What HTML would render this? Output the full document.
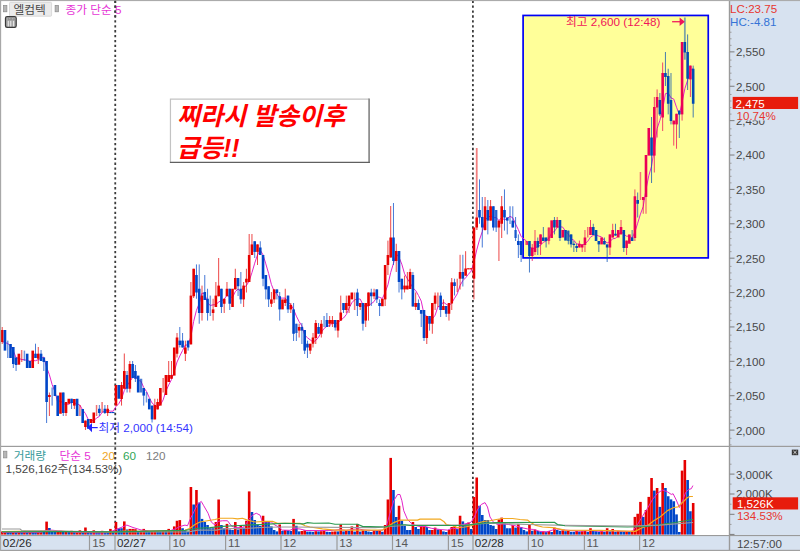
<!DOCTYPE html>
<html lang="ko"><head><meta charset="utf-8"><title>chart</title>
<style>
html,body{margin:0;padding:0;background:#fff;font-family:"Liberation Sans",sans-serif;}
body{width:800px;height:551px;overflow:hidden;}
svg{display:block;}
svg text{font-family:"Liberation Sans","Noto Sans CJK KR",sans-serif;}
</style></head><body>
<svg width="800" height="551" viewBox="0 0 800 551" shape-rendering="geometricPrecision"><rect x="0" y="0" width="800" height="551" fill="#fff"/>
<rect x="523.1" y="15.45" width="185.15" height="242.45" fill="#ffff99" stroke="#0000f5" stroke-width="1.7"/>
<line x1="115.25" y1="0.65" x2="115.25" y2="535" stroke="#3c3c3c" stroke-width="1.8" stroke-dasharray="2.3 2.607"/>
<line x1="472.9" y1="0.65" x2="472.9" y2="535" stroke="#3c3c3c" stroke-width="1.8" stroke-dasharray="2.3 2.607"/>
<polyline fill="none" stroke="#e424c8" stroke-width="1" stroke-linejoin="round" points="2.2,341.6 4.97,342.52 7.75,343.52 10.52,345.92 13.3,350.72 16.07,357.72 18.85,358.34 21.62,359.54 24.4,359.74 27.17,360.54 29.95,361.14 32.73,360.52 35.5,360.72 38.27,359.66 41.05,358.26 43.83,357.06 46.6,367.34 49.38,374.74 52.15,384.6 54.93,391.6 57.7,402.4 60.48,400.5 63.25,404.1 66.02,403.9 68.8,404.45 71.58,401.85 74.35,403.15 77.12,403.75 79.9,405.15 82.67,410 85.45,413.52 88.22,419.47 91,420.07 93.78,420.77 96.55,417.97 99.33,416.45 102.1,412.3 104.88,411.1 107.65,410.35 110.42,411.15 113.2,411.15 115.97,406.55 118.75,403.7 121.53,398.95 124.3,390.55 127.08,385.7 129.85,381.5 132.62,377.35 135.4,376.1 138.17,380.4 140.95,381.15 143.72,387.47 146.5,391.47 149.27,397.6 152.05,402.98 154.82,405.48 157.6,406.76 160.37,404.76 163.15,399.88 165.92,391 168.7,385 171.47,379.6 174.25,371.5 177.02,362 179.8,356 182.57,350.5 185.35,345 188.12,345 190.9,336.62 193.67,321.37 196.45,310.37 199.22,303.47 202,293.09 204.77,293.97 207.55,302.82 210.32,305.52 213.1,304.8 215.87,304.8 218.65,301.92 221.42,300.72 224.2,299.27 226.97,295.14 229.75,296.77 232.52,297.4 235.3,291.6 238.07,289.1 240.85,291.23 243.62,287.6 246.4,285.6 249.17,281 251.95,272.63 254.72,263.13 257.5,254.89 260.27,250.14 263.05,254.89 265.82,263.89 268.6,273.39 271.38,284.39 274.15,291.27 276.92,294.12 279.7,298.12 282.47,298.12 285.25,298.12 288.02,302.12 290.8,304.52 293.57,309.39 296.35,316.11 299.12,321.63 301.9,325.87 304.67,334.99 307.45,337.74 310.22,339.89 313,341.99 315.77,340.47 318.55,337.1 321.32,332.35 324.1,328.4 326.88,326.3 329.65,325.7 332.42,322.95 335.2,323.7 337.97,322.9 340.75,320 343.52,318 346.3,314.6 349.07,308.22 351.85,302.72 354.62,299.82 357.4,299.02 360.17,299.02 362.95,304.65 365.72,306.75 368.5,305.65 371.27,303.7 374.05,301.6 376.82,296.73 379.6,297.33 382.38,298.58 385.15,292.33 387.92,284.83 390.7,272.45 393.47,263.45 396.25,253.9 399.02,257.3 401.8,264.18 404.57,273.8 407.35,278.72 410.12,282.92 412.9,287.82 415.67,290.54 418.45,295.42 421.22,301.05 424,314.25 426.77,316.15 429.55,320.3 432.32,318.9 435.1,315.27 437.88,306.87 440.65,305.67 443.42,302.12 446.2,304.27 448.97,305.75 451.75,303.01 454.52,298.21 457.3,293.81 460.07,285.46 462.85,280.6 465.62,277.84 468.4,274.28 471.17,271.12 473.95,262.22 476.72,249.98 479.5,239.78 482.27,231.64 485.05,219.25 487.82,217.87 490.6,215.62 493.38,217.62 496.15,217.62 498.92,220.49 501.7,217.62 504.47,219.87 507.25,218.49 510.02,216.39 512.8,217.77 515.58,224.12 518.35,229.62 521.12,236.5 526.68,241.3 529.45,247 532.23,248.9 535,248.1 537.77,246.6 540.55,245.28 543.33,242.28 546.1,240.98 548.88,238.28 551.65,232.84 554.43,231.46 557.2,227.26 559.98,226.66 562.75,227.16 565.52,231.22 568.3,233.92 571.08,238.8 573.85,240.2 576.62,243.8 579.4,244.43 582.18,245.11 584.95,243.73 587.73,241.33 590.5,237.13 593.27,235.38 596.05,234.7 598.83,236.08 601.6,236.98 604.38,240.46 607.15,242.96 609.93,241.64 612.7,238.76 615.48,238.38 618.25,235.5 621.02,231.4 623.8,234.12 626.58,236.24 629.35,236 632.12,238.2 634.9,232.05 637.68,223.2 640.45,214.08 643.23,206.6 646,189.4 648.77,175.75 651.55,166.12 654.33,148.52 657.1,128.52 659.88,120.4 662.65,109.4 665.43,93.68 668.2,93.03 670.98,97.83 673.75,99.07 676.52,107.22 679.3,114.7 682.08,102.35 684.85,88.65 687.62,80.28 690.4,70.65 693.18,68.52"/>
<g><rect x="1.7" y="327" width="1" height="17" fill="#e60000" opacity="0.72"/><rect x="0.9" y="330" width="2.6" height="12" fill="#e60000"/><rect x="3.67" y="330" width="2.6" height="20.6" fill="#0046c8"/><rect x="7" y="340.6" width="1.5" height="17.4" fill="#0046c8" opacity="0.55"/><rect x="9.22" y="344" width="2.6" height="14" fill="#0046c8"/><rect x="12.8" y="347" width="1" height="21" fill="#0046c8" opacity="0.72"/><rect x="12" y="347" width="2.6" height="17" fill="#0046c8"/><rect x="15.57" y="357.5" width="1" height="13.5" fill="#0046c8" opacity="0.72"/><rect x="14.77" y="357.5" width="2.6" height="7.5" fill="#0046c8"/><rect x="17.55" y="353.7" width="2.6" height="11" fill="#e60000"/><rect x="20.88" y="350" width="1.5" height="12" fill="#e60000" opacity="0.55"/><rect x="23.65" y="350.6" width="1.5" height="10.4" fill="#0046c8" opacity="0.55"/><rect x="25.87" y="353.7" width="2.6" height="14.3" fill="#0046c8"/><rect x="28.65" y="361" width="2.6" height="7" fill="#0046c8"/><rect x="31.43" y="350.6" width="2.6" height="17.4" fill="#e60000"/><rect x="35" y="343.7" width="1" height="14.3" fill="#0046c8" opacity="0.72"/><rect x="34.2" y="353.7" width="2.6" height="4.3" fill="#0046c8"/><rect x="37.77" y="347" width="1" height="17" fill="#e60000" opacity="0.72"/><rect x="36.98" y="353.7" width="2.6" height="5" fill="#e60000"/><rect x="40.55" y="350" width="1" height="11" fill="#0046c8" opacity="0.72"/><rect x="39.75" y="353.7" width="2.6" height="7.3" fill="#0046c8"/><rect x="43.33" y="357.5" width="1" height="13.5" fill="#0046c8" opacity="0.72"/><rect x="42.53" y="357.5" width="2.6" height="4.5" fill="#0046c8"/><rect x="46.1" y="361" width="1" height="62" fill="#0046c8" opacity="0.72"/><rect x="45.3" y="361" width="2.6" height="41" fill="#0046c8"/><rect x="48.88" y="392.5" width="1" height="23.5" fill="#e60000" opacity="0.72"/><rect x="48.08" y="395" width="2.6" height="2" fill="#e60000"/><rect x="51.4" y="387.5" width="1.5" height="18.1" fill="#0046c8" opacity="0.55"/><rect x="53.63" y="385" width="2.6" height="11" fill="#0046c8"/><rect x="56.4" y="395.6" width="2.6" height="20.4" fill="#0046c8"/><rect x="59.18" y="392.5" width="2.6" height="21.25" fill="#e60000"/><rect x="62.75" y="392.5" width="1" height="23.5" fill="#0046c8" opacity="0.72"/><rect x="61.95" y="392.5" width="2.6" height="20.5" fill="#0046c8"/><rect x="65.52" y="402" width="1" height="14" fill="#e60000" opacity="0.72"/><rect x="64.72" y="402" width="2.6" height="11" fill="#e60000"/><rect x="67.5" y="398.75" width="2.6" height="5" fill="#e60000"/><rect x="71.08" y="398.75" width="1" height="10.25" fill="#0046c8" opacity="0.72"/><rect x="70.28" y="398.75" width="2.6" height="4.25" fill="#0046c8"/><rect x="73.85" y="399" width="1" height="10" fill="#e60000" opacity="0.72"/><rect x="73.05" y="399" width="2.6" height="6.6" fill="#e60000"/><rect x="75.83" y="398.75" width="2.6" height="17.25" fill="#0046c8"/><rect x="79.15" y="405" width="1.5" height="11" fill="#e60000" opacity="0.55"/><rect x="81.38" y="409" width="2.6" height="14" fill="#0046c8"/><rect x="84.95" y="420.6" width="1" height="9.4" fill="#e60000" opacity="0.72"/><rect x="84.15" y="420.6" width="2.6" height="6.4" fill="#e60000"/><rect x="86.92" y="419" width="2.6" height="9.75" fill="#0046c8"/><rect x="89.7" y="419" width="2.6" height="4" fill="#e60000"/><rect x="92.48" y="412.5" width="2.6" height="10.5" fill="#e60000"/><rect x="95.8" y="405" width="1.5" height="11" fill="#e60000" opacity="0.55"/><rect x="98.83" y="405" width="1" height="11" fill="#0046c8" opacity="0.72"/><rect x="98.03" y="408.75" width="2.6" height="4.25" fill="#0046c8"/><rect x="101.35" y="402" width="1.5" height="10.5" fill="#e60000" opacity="0.55"/><rect x="104.38" y="405" width="1" height="9" fill="#0046c8" opacity="0.72"/><rect x="103.58" y="408.75" width="2.6" height="4.25" fill="#0046c8"/><rect x="107.15" y="405" width="1" height="11" fill="#e60000" opacity="0.72"/><rect x="106.35" y="408.75" width="2.6" height="4.25" fill="#e60000"/><rect x="109.12" y="412" width="2.6" height="1.1" fill="#0046c8"/><rect x="111.9" y="412" width="2.6" height="1.1" fill="#0046c8"/><rect x="114.67" y="385" width="2.6" height="20.6" fill="#e60000"/><rect x="117.45" y="385" width="2.6" height="13.75" fill="#0046c8"/><rect x="121.03" y="382" width="1" height="23.6" fill="#e60000" opacity="0.72"/><rect x="120.23" y="385" width="2.6" height="14" fill="#e60000"/><rect x="123.8" y="353.5" width="1" height="35.25" fill="#e60000" opacity="0.72"/><rect x="123" y="371" width="2.6" height="17.75" fill="#e60000"/><rect x="126.58" y="371" width="1" height="21.5" fill="#0046c8" opacity="0.72"/><rect x="125.78" y="375" width="2.6" height="13.75" fill="#0046c8"/><rect x="129.35" y="361" width="1" height="31.5" fill="#e60000" opacity="0.72"/><rect x="128.55" y="364" width="2.6" height="24.75" fill="#e60000"/><rect x="132.12" y="361" width="1" height="17" fill="#0046c8" opacity="0.72"/><rect x="131.32" y="364" width="2.6" height="14" fill="#0046c8"/><rect x="134.9" y="365" width="1" height="17" fill="#0046c8" opacity="0.72"/><rect x="134.1" y="371" width="2.6" height="7.75" fill="#0046c8"/><rect x="136.87" y="375.6" width="2.6" height="16.9" fill="#0046c8"/><rect x="139.65" y="378.75" width="2.6" height="13.75" fill="#0046c8" opacity="0.7"/><rect x="143.22" y="388" width="1" height="17.6" fill="#0046c8" opacity="0.72"/><rect x="142.42" y="388" width="2.6" height="7.6" fill="#0046c8"/><rect x="145.75" y="392" width="1.5" height="10.5" fill="#0046c8" opacity="0.55"/><rect x="147.97" y="398.75" width="2.6" height="10.65" fill="#0046c8"/><rect x="151.55" y="405.6" width="1" height="16.9" fill="#0046c8" opacity="0.72"/><rect x="150.75" y="405.6" width="2.6" height="13.8" fill="#0046c8"/><rect x="154.32" y="398.75" width="1" height="20.65" fill="#e60000" opacity="0.72"/><rect x="153.52" y="405" width="2.6" height="14.4" fill="#e60000"/><rect x="157.1" y="398.75" width="1" height="10.65" fill="#e60000" opacity="0.72"/><rect x="156.3" y="402" width="2.6" height="7.4" fill="#e60000"/><rect x="159.07" y="388" width="2.6" height="17.6" fill="#e60000"/><rect x="162.4" y="378" width="1.5" height="14.5" fill="#e60000" opacity="0.55"/><rect x="164.62" y="375" width="2.6" height="20" fill="#e60000"/><rect x="168.2" y="361" width="1" height="21" fill="#e60000" opacity="0.72"/><rect x="167.4" y="375" width="2.6" height="7" fill="#e60000"/><rect x="170.97" y="361" width="1" height="17.75" fill="#e60000" opacity="0.72"/><rect x="170.17" y="375" width="2.6" height="3.75" fill="#e60000"/><rect x="172.95" y="347.5" width="2.6" height="28.1" fill="#e60000"/><rect x="176.52" y="333" width="1" height="24.5" fill="#e60000" opacity="0.72"/><rect x="175.72" y="337.5" width="2.6" height="16.25" fill="#e60000"/><rect x="179.3" y="327" width="1" height="20.5" fill="#0046c8" opacity="0.72"/><rect x="178.5" y="340.6" width="2.6" height="4.4" fill="#0046c8"/><rect x="182.07" y="333" width="1" height="14.5" fill="#0046c8" opacity="0.72"/><rect x="181.27" y="340.6" width="2.6" height="6.9" fill="#0046c8"/><rect x="184.85" y="340.6" width="1" height="20.4" fill="#e60000" opacity="0.72"/><rect x="184.05" y="347.5" width="2.6" height="6.25" fill="#e60000"/><rect x="187.62" y="340.6" width="1" height="10" fill="#0046c8" opacity="0.72"/><rect x="186.82" y="340.6" width="2.6" height="6.9" fill="#0046c8"/><rect x="190.4" y="282" width="1" height="62.4" fill="#e60000" opacity="0.72"/><rect x="189.6" y="295.6" width="2.6" height="48.8" fill="#e60000"/><rect x="193.17" y="268.75" width="1" height="29.25" fill="#e60000" opacity="0.72"/><rect x="192.37" y="268.75" width="2.6" height="27.5" fill="#e60000"/><rect x="195.95" y="264.4" width="1" height="34.35" fill="#0046c8" opacity="0.72"/><rect x="195.15" y="275" width="2.6" height="17.5" fill="#0046c8"/><rect x="198.72" y="264.4" width="1" height="59.35" fill="#0046c8" opacity="0.72"/><rect x="197.92" y="288.75" width="2.6" height="24.25" fill="#0046c8"/><rect x="201.5" y="285.6" width="1" height="35" fill="#e60000" opacity="0.72"/><rect x="200.7" y="295.6" width="2.6" height="17.4" fill="#e60000"/><rect x="204.27" y="275" width="1" height="25" fill="#0046c8" opacity="0.72"/><rect x="203.47" y="292" width="2.6" height="8" fill="#0046c8"/><rect x="207.05" y="288.75" width="1" height="31.85" fill="#0046c8" opacity="0.72"/><rect x="206.25" y="298.75" width="2.6" height="14.25" fill="#0046c8"/><rect x="209.57" y="295.6" width="1.5" height="20.4" fill="#0046c8" opacity="0.55"/><rect x="212.6" y="298.75" width="1" height="21.85" fill="#e60000" opacity="0.72"/><rect x="211.8" y="309.4" width="2.6" height="3.6" fill="#e60000"/><rect x="215.37" y="282" width="1" height="25" fill="#e60000" opacity="0.72"/><rect x="214.57" y="295.6" width="2.6" height="11.4" fill="#e60000"/><rect x="218.15" y="258" width="1" height="38.25" fill="#e60000" opacity="0.72"/><rect x="217.35" y="285.6" width="2.6" height="10.65" fill="#e60000"/><rect x="220.92" y="288.75" width="1" height="24.25" fill="#0046c8" opacity="0.72"/><rect x="220.12" y="288.75" width="2.6" height="18.25" fill="#0046c8"/><rect x="223.7" y="298.75" width="1" height="14.25" fill="#e60000" opacity="0.72"/><rect x="222.9" y="298.75" width="2.6" height="5" fill="#e60000"/><rect x="226.47" y="282" width="1" height="14.25" fill="#e60000" opacity="0.72"/><rect x="225.67" y="288.75" width="2.6" height="7.5" fill="#e60000"/><rect x="229.25" y="288.75" width="1" height="21.25" fill="#0046c8" opacity="0.72"/><rect x="228.45" y="288.75" width="2.6" height="15" fill="#0046c8"/><rect x="231.22" y="288.75" width="2.6" height="18.25" fill="#e60000"/><rect x="234.8" y="268.75" width="1" height="20.65" fill="#e60000" opacity="0.72"/><rect x="234" y="278" width="2.6" height="11.4" fill="#e60000"/><rect x="237.57" y="278" width="1" height="18" fill="#0046c8" opacity="0.72"/><rect x="236.77" y="278" width="2.6" height="8.25" fill="#0046c8"/><rect x="240.35" y="272" width="1" height="31.75" fill="#0046c8" opacity="0.72"/><rect x="239.55" y="288.75" width="2.6" height="10.65" fill="#0046c8"/><rect x="243.12" y="282" width="1" height="25" fill="#e60000" opacity="0.72"/><rect x="242.32" y="285.6" width="2.6" height="13.8" fill="#e60000"/><rect x="245.9" y="268.75" width="1" height="23.75" fill="#e60000" opacity="0.72"/><rect x="245.1" y="278.75" width="2.6" height="3.75" fill="#e60000"/><rect x="248.67" y="234" width="1" height="48" fill="#e60000" opacity="0.72"/><rect x="247.87" y="255" width="2.6" height="27" fill="#e60000"/><rect x="251.45" y="234" width="1" height="21" fill="#e60000" opacity="0.72"/><rect x="250.65" y="244.4" width="2.6" height="10.6" fill="#e60000"/><rect x="254.22" y="241.25" width="1" height="16.75" fill="#0046c8" opacity="0.72"/><rect x="253.42" y="241.25" width="2.6" height="10.65" fill="#0046c8"/><rect x="257" y="244.4" width="1" height="20.6" fill="#e60000" opacity="0.72"/><rect x="256.2" y="244.4" width="2.6" height="7.5" fill="#e60000"/><rect x="259.77" y="241.25" width="1" height="13.75" fill="#0046c8" opacity="0.72"/><rect x="258.97" y="247.5" width="2.6" height="7.5" fill="#0046c8"/><rect x="262.55" y="255" width="1" height="31.25" fill="#0046c8" opacity="0.72"/><rect x="261.75" y="255" width="2.6" height="23.75" fill="#0046c8"/><rect x="265.32" y="275" width="1" height="24.4" fill="#0046c8" opacity="0.72"/><rect x="264.52" y="275" width="2.6" height="14.4" fill="#0046c8"/><rect x="268.1" y="286.25" width="1" height="20.75" fill="#0046c8" opacity="0.72"/><rect x="267.3" y="286.25" width="2.6" height="13.15" fill="#0046c8"/><rect x="270.88" y="292" width="1" height="15" fill="#e60000" opacity="0.72"/><rect x="270.07" y="299.4" width="2.6" height="4.35" fill="#e60000"/><rect x="273.65" y="289.4" width="1" height="13.6" fill="#e60000" opacity="0.72"/><rect x="272.85" y="289.4" width="2.6" height="10" fill="#e60000"/><rect x="276.42" y="289.4" width="1" height="10" fill="#0046c8" opacity="0.72"/><rect x="275.62" y="289.4" width="2.6" height="3.6" fill="#0046c8"/><rect x="279.2" y="292" width="1" height="28.6" fill="#0046c8" opacity="0.72"/><rect x="278.4" y="296.25" width="2.6" height="13.15" fill="#0046c8"/><rect x="281.17" y="299.4" width="2.6" height="10" fill="#e60000"/><rect x="284.75" y="288.75" width="1" height="17.25" fill="#e60000" opacity="0.72"/><rect x="283.95" y="299.4" width="2.6" height="3.6" fill="#e60000"/><rect x="287.52" y="295.6" width="1" height="17.4" fill="#0046c8" opacity="0.72"/><rect x="286.72" y="295.6" width="2.6" height="13.8" fill="#0046c8"/><rect x="290.3" y="303" width="1" height="10" fill="#e60000" opacity="0.72"/><rect x="289.5" y="305" width="2.6" height="4.4" fill="#e60000"/><rect x="293.07" y="303" width="1" height="38" fill="#0046c8" opacity="0.72"/><rect x="292.27" y="309.4" width="2.6" height="24.35" fill="#0046c8"/><rect x="295.85" y="323.75" width="1" height="17.25" fill="#0046c8" opacity="0.72"/><rect x="295.05" y="323.75" width="2.6" height="9.25" fill="#0046c8" opacity="0.7"/><rect x="298.62" y="323.75" width="1" height="13.75" fill="#e60000" opacity="0.72"/><rect x="297.82" y="327" width="2.6" height="3.6" fill="#e60000"/><rect x="301.4" y="323" width="1" height="21" fill="#0046c8" opacity="0.72"/><rect x="300.6" y="327" width="2.6" height="3.6" fill="#0046c8"/><rect x="304.17" y="330" width="1" height="24" fill="#0046c8" opacity="0.72"/><rect x="303.37" y="330" width="2.6" height="20.6" fill="#0046c8"/><rect x="306.95" y="340.6" width="1" height="17.4" fill="#0046c8" opacity="0.72"/><rect x="306.15" y="343.75" width="2.6" height="3.75" fill="#0046c8"/><rect x="309.72" y="343.75" width="1" height="10.25" fill="#e60000" opacity="0.72"/><rect x="308.92" y="343.75" width="2.6" height="6.85" fill="#e60000"/><rect x="312.5" y="333" width="1" height="14.5" fill="#e60000" opacity="0.72"/><rect x="311.7" y="337.5" width="2.6" height="6.25" fill="#e60000"/><rect x="315.27" y="320" width="1" height="24" fill="#e60000" opacity="0.72"/><rect x="314.47" y="323" width="2.6" height="15" fill="#e60000"/><rect x="318.05" y="323" width="1" height="10.75" fill="#0046c8" opacity="0.72"/><rect x="317.25" y="327" width="2.6" height="6.75" fill="#0046c8"/><rect x="320.82" y="320" width="1" height="17.5" fill="#e60000" opacity="0.72"/><rect x="320.02" y="323.75" width="2.6" height="10" fill="#e60000"/><rect x="323.35" y="316" width="1.5" height="11" fill="#0046c8" opacity="0.55"/><rect x="326.38" y="313" width="1" height="14" fill="#0046c8" opacity="0.72"/><rect x="325.57" y="320" width="2.6" height="7" fill="#0046c8"/><rect x="329.15" y="316" width="1" height="11" fill="#e60000" opacity="0.72"/><rect x="328.35" y="320" width="2.6" height="3.75" fill="#e60000"/><rect x="331.92" y="316" width="1" height="11" fill="#e60000" opacity="0.72"/><rect x="331.12" y="320" width="2.6" height="3.75" fill="#e60000"/><rect x="334.7" y="320" width="1" height="10.6" fill="#0046c8" opacity="0.72"/><rect x="333.9" y="320" width="2.6" height="7.5" fill="#0046c8"/><rect x="337.47" y="320" width="1" height="17.5" fill="#e60000" opacity="0.72"/><rect x="336.67" y="320" width="2.6" height="10.6" fill="#e60000"/><rect x="340.25" y="295.6" width="1" height="25" fill="#e60000" opacity="0.72"/><rect x="339.45" y="312.5" width="2.6" height="8.1" fill="#e60000"/><rect x="343.02" y="303" width="1" height="10" fill="#0046c8" opacity="0.72"/><rect x="342.22" y="303" width="2.6" height="7" fill="#0046c8"/><rect x="345.8" y="295.6" width="1" height="17.4" fill="#e60000" opacity="0.72"/><rect x="345" y="303" width="2.6" height="7" fill="#e60000"/><rect x="348.57" y="295.6" width="1" height="17.4" fill="#e60000" opacity="0.72"/><rect x="347.77" y="295.6" width="2.6" height="10.4" fill="#e60000"/><rect x="350.55" y="292.5" width="2.6" height="6.9" fill="#e60000"/><rect x="353.88" y="292.5" width="1.5" height="17.5" fill="#e60000" opacity="0.55"/><rect x="356.9" y="288.75" width="1" height="27.25" fill="#0046c8" opacity="0.72"/><rect x="356.1" y="292.5" width="2.6" height="13.5" fill="#0046c8"/><rect x="359.67" y="303" width="1" height="7" fill="#e60000" opacity="0.72"/><rect x="358.87" y="303" width="2.6" height="4" fill="#e60000"/><rect x="362.45" y="303" width="1" height="27.6" fill="#0046c8" opacity="0.72"/><rect x="361.65" y="303" width="2.6" height="20.75" fill="#0046c8"/><rect x="365.22" y="303" width="1" height="24" fill="#e60000" opacity="0.72"/><rect x="364.42" y="303" width="2.6" height="17.6" fill="#e60000"/><rect x="368" y="292.5" width="1" height="28.1" fill="#e60000" opacity="0.72"/><rect x="367.2" y="292.5" width="2.6" height="13.5" fill="#e60000"/><rect x="370.77" y="288.75" width="1" height="17.25" fill="#0046c8" opacity="0.72"/><rect x="369.97" y="292.5" width="2.6" height="3.75" fill="#0046c8"/><rect x="373.55" y="288.75" width="1" height="10.25" fill="#e60000" opacity="0.72"/><rect x="372.75" y="292.5" width="2.6" height="3.75" fill="#e60000"/><rect x="376.32" y="289.4" width="1" height="13.6" fill="#0046c8" opacity="0.72"/><rect x="375.52" y="289.4" width="2.6" height="10" fill="#0046c8"/><rect x="379.1" y="299.4" width="1" height="16.6" fill="#0046c8" opacity="0.72"/><rect x="378.3" y="303" width="2.6" height="3" fill="#0046c8"/><rect x="381.07" y="298.75" width="2.6" height="7.5" fill="#e60000"/><rect x="384.65" y="265" width="1" height="41" fill="#e60000" opacity="0.72"/><rect x="383.85" y="265" width="2.6" height="34.4" fill="#e60000"/><rect x="387.42" y="240.6" width="1" height="34.4" fill="#e60000" opacity="0.72"/><rect x="386.62" y="255" width="2.6" height="10" fill="#e60000"/><rect x="390.2" y="206" width="1" height="51.5" fill="#e60000" opacity="0.72"/><rect x="389.4" y="237.5" width="2.6" height="20" fill="#e60000"/><rect x="392.97" y="203" width="1" height="62" fill="#0046c8" opacity="0.72"/><rect x="392.17" y="237.5" width="2.6" height="23.5" fill="#0046c8"/><rect x="395.75" y="243.75" width="1" height="28.25" fill="#e60000" opacity="0.72"/><rect x="394.95" y="251" width="2.6" height="10" fill="#e60000"/><rect x="398.52" y="251" width="1" height="41.5" fill="#0046c8" opacity="0.72"/><rect x="397.72" y="251" width="2.6" height="31" fill="#0046c8"/><rect x="401.3" y="278.75" width="1" height="20.65" fill="#0046c8" opacity="0.72"/><rect x="400.5" y="278.75" width="2.6" height="10.65" fill="#0046c8"/><rect x="404.07" y="275.6" width="1" height="16.9" fill="#e60000" opacity="0.72"/><rect x="403.27" y="285.6" width="2.6" height="3.8" fill="#e60000"/><rect x="406.85" y="272" width="1" height="17.4" fill="#e60000" opacity="0.72"/><rect x="406.05" y="285.6" width="2.6" height="3.8" fill="#e60000"/><rect x="409.62" y="268.75" width="1" height="20.25" fill="#e60000" opacity="0.72"/><rect x="408.82" y="272" width="2.6" height="17" fill="#e60000"/><rect x="412.4" y="272" width="1" height="34.5" fill="#0046c8" opacity="0.72"/><rect x="411.6" y="275" width="2.6" height="31.5" fill="#0046c8"/><rect x="415.17" y="292.5" width="1" height="17.5" fill="#e60000" opacity="0.72"/><rect x="414.37" y="303" width="2.6" height="3.9" fill="#e60000"/><rect x="417.95" y="299.4" width="1" height="10.6" fill="#0046c8" opacity="0.72"/><rect x="417.15" y="303" width="2.6" height="7" fill="#0046c8"/><rect x="420.72" y="310" width="1" height="17" fill="#0046c8" opacity="0.72"/><rect x="419.92" y="310" width="2.6" height="3.75" fill="#0046c8"/><rect x="423.5" y="310" width="1" height="31" fill="#0046c8" opacity="0.72"/><rect x="422.7" y="310" width="2.6" height="28" fill="#0046c8"/><rect x="426.27" y="316" width="1" height="28" fill="#e60000" opacity="0.72"/><rect x="425.47" y="316" width="2.6" height="22" fill="#e60000"/><rect x="429.05" y="316" width="1" height="14.6" fill="#0046c8" opacity="0.72"/><rect x="428.25" y="316" width="2.6" height="7.75" fill="#0046c8"/><rect x="431.82" y="303" width="1" height="30.75" fill="#e60000" opacity="0.72"/><rect x="431.02" y="303" width="2.6" height="20.75" fill="#e60000"/><rect x="434.6" y="292.5" width="1" height="17.5" fill="#e60000" opacity="0.72"/><rect x="433.8" y="295.6" width="2.6" height="8.15" fill="#e60000"/><rect x="437.12" y="292.5" width="1.5" height="14.5" fill="#e60000" opacity="0.55"/><rect x="440.15" y="292.5" width="1" height="24.5" fill="#0046c8" opacity="0.72"/><rect x="439.35" y="295.6" width="2.6" height="14.4" fill="#0046c8"/><rect x="442.92" y="299.4" width="1" height="10.6" fill="#e60000" opacity="0.72"/><rect x="442.12" y="306" width="2.6" height="4" fill="#e60000"/><rect x="445.7" y="306" width="1" height="11" fill="#0046c8" opacity="0.72"/><rect x="444.9" y="306" width="2.6" height="7.75" fill="#0046c8"/><rect x="448.47" y="303" width="1" height="17.6" fill="#e60000" opacity="0.72"/><rect x="447.67" y="303" width="2.6" height="10.75" fill="#e60000"/><rect x="451.25" y="278" width="1" height="32" fill="#e60000" opacity="0.72"/><rect x="450.45" y="282.3" width="2.6" height="21.2" fill="#e60000"/><rect x="454.02" y="278.7" width="1" height="16.8" fill="#0046c8" opacity="0.72"/><rect x="453.22" y="282.3" width="2.6" height="3.7" fill="#0046c8"/><rect x="456.55" y="278.7" width="1.5" height="13.3" fill="#e60000" opacity="0.55"/><rect x="459.57" y="254.8" width="1" height="34.7" fill="#e60000" opacity="0.72"/><rect x="458.77" y="272" width="2.6" height="6.7" fill="#e60000"/><rect x="462.35" y="254.8" width="1" height="31.7" fill="#0046c8" opacity="0.72"/><rect x="461.55" y="272" width="2.6" height="6.7" fill="#0046c8"/><rect x="465.12" y="251.2" width="1" height="24.5" fill="#e60000" opacity="0.72"/><rect x="464.32" y="268.5" width="2.6" height="7.2" fill="#e60000"/><rect x="467.1" y="268.2" width="2.6" height="1.2" fill="#e60000"/><rect x="469.87" y="268.2" width="2.6" height="1.2" fill="#e60000"/><rect x="473.45" y="227.5" width="1" height="71.9" fill="#e60000" opacity="0.72"/><rect x="472.65" y="227.5" width="2.6" height="51.2" fill="#e60000"/><rect x="475.82" y="148" width="1.8" height="82" fill="#e60000" opacity="0.5"/><rect x="475.42" y="217.5" width="2.6" height="10" fill="#e60000"/><rect x="479" y="179.4" width="1" height="44.35" fill="#0046c8" opacity="0.72"/><rect x="478.2" y="210" width="2.6" height="7.5" fill="#0046c8"/><rect x="481.77" y="197" width="1" height="50.5" fill="#0046c8" opacity="0.72"/><rect x="480.97" y="217" width="2.6" height="10.5" fill="#0046c8"/><rect x="484.55" y="197" width="1" height="33.6" fill="#e60000" opacity="0.72"/><rect x="483.75" y="206.25" width="2.6" height="23.75" fill="#e60000"/><rect x="487.32" y="200" width="1" height="34.4" fill="#0046c8" opacity="0.72"/><rect x="486.52" y="210" width="2.6" height="10.6" fill="#0046c8"/><rect x="490.1" y="200" width="1" height="20.6" fill="#e60000" opacity="0.72"/><rect x="489.3" y="206.25" width="2.6" height="14.35" fill="#e60000"/><rect x="492.88" y="206.25" width="1" height="24.35" fill="#0046c8" opacity="0.72"/><rect x="492.07" y="206.25" width="2.6" height="21.25" fill="#0046c8"/><rect x="495.65" y="210" width="1" height="22" fill="#0046c8" opacity="0.72"/><rect x="494.85" y="210" width="2.6" height="17.5" fill="#0046c8" opacity="0.7"/><rect x="498.42" y="220.6" width="1" height="40.4" fill="#e60000" opacity="0.72"/><rect x="497.62" y="220.6" width="2.6" height="6.9" fill="#e60000"/><rect x="501.2" y="196" width="1" height="42" fill="#e60000" opacity="0.72"/><rect x="500.4" y="206.25" width="2.6" height="17.5" fill="#e60000"/><rect x="503.97" y="189.4" width="1" height="41.2" fill="#0046c8" opacity="0.72"/><rect x="503.17" y="210" width="2.6" height="7.5" fill="#0046c8"/><rect x="506.75" y="217.5" width="1" height="16.9" fill="#0046c8" opacity="0.72"/><rect x="505.95" y="217.5" width="2.6" height="3.1" fill="#0046c8"/><rect x="509.27" y="206.25" width="1.5" height="17.75" fill="#0046c8" opacity="0.55"/><rect x="512.3" y="206.25" width="1" height="21.25" fill="#0046c8" opacity="0.72"/><rect x="511.5" y="220.6" width="2.6" height="6.9" fill="#0046c8"/><rect x="515.08" y="217" width="1" height="24" fill="#0046c8" opacity="0.72"/><rect x="514.28" y="230" width="2.6" height="8" fill="#0046c8" opacity="0.7"/><rect x="517.85" y="234.4" width="1" height="23.6" fill="#0046c8" opacity="0.72"/><rect x="517.05" y="241" width="2.6" height="4" fill="#0046c8"/><rect x="520.62" y="241" width="1" height="21" fill="#0046c8" opacity="0.72"/><rect x="519.83" y="241" width="2.6" height="14" fill="#0046c8"/><rect x="525.38" y="241" width="2.6" height="4" fill="#eb0055" opacity="0.7"/><rect x="528.95" y="241" width="1" height="31.5" fill="#004bb4" opacity="0.72"/><rect x="528.15" y="241" width="2.6" height="15" fill="#004bb4"/><rect x="531.73" y="244" width="1" height="17" fill="#eb0055" opacity="0.72"/><rect x="530.93" y="247.5" width="2.6" height="8.5" fill="#eb0055"/><rect x="534.5" y="230" width="1" height="25" fill="#eb0055" opacity="0.72"/><rect x="533.7" y="241" width="2.6" height="11" fill="#eb0055"/><rect x="537.27" y="237.5" width="1" height="17.5" fill="#004bb4" opacity="0.72"/><rect x="536.48" y="241" width="2.6" height="6.5" fill="#004bb4"/><rect x="540.05" y="234.4" width="1" height="20.6" fill="#eb0055" opacity="0.72"/><rect x="539.25" y="234.4" width="2.6" height="9.6" fill="#eb0055"/><rect x="542.83" y="227" width="1" height="14" fill="#004bb4" opacity="0.72"/><rect x="542.03" y="237.5" width="2.6" height="3.5" fill="#004bb4"/><rect x="545.6" y="237.5" width="1" height="10" fill="#004bb4" opacity="0.72"/><rect x="544.8" y="237.5" width="2.6" height="3.5" fill="#004bb4"/><rect x="548.38" y="227.5" width="1" height="16.9" fill="#eb0055" opacity="0.72"/><rect x="547.58" y="227.5" width="2.6" height="13.5" fill="#eb0055" opacity="0.7"/><rect x="550.35" y="220.3" width="2.6" height="17.7" fill="#eb0055"/><rect x="553.93" y="217" width="1" height="17.4" fill="#004bb4" opacity="0.72"/><rect x="553.13" y="220" width="2.6" height="7.5" fill="#004bb4"/><rect x="556.7" y="217" width="1" height="10.5" fill="#eb0055" opacity="0.72"/><rect x="555.9" y="220" width="2.6" height="7.5" fill="#eb0055"/><rect x="559.48" y="220" width="1" height="21" fill="#004bb4" opacity="0.72"/><rect x="558.68" y="220" width="2.6" height="18" fill="#004bb4"/><rect x="561.45" y="230" width="2.6" height="7.5" fill="#eb0055"/><rect x="564.23" y="230" width="2.6" height="10.6" fill="#004bb4"/><rect x="567.8" y="230.6" width="1" height="13.8" fill="#004bb4" opacity="0.72"/><rect x="567" y="230.6" width="2.6" height="10.4" fill="#004bb4" opacity="0.7"/><rect x="570.58" y="234.4" width="1" height="13.1" fill="#004bb4" opacity="0.72"/><rect x="569.78" y="234.4" width="2.6" height="10" fill="#004bb4"/><rect x="573.35" y="241" width="1" height="11" fill="#004bb4" opacity="0.72"/><rect x="572.55" y="243.75" width="2.6" height="1.25" fill="#004bb4"/><rect x="576.12" y="243.75" width="1" height="8.25" fill="#004bb4" opacity="0.72"/><rect x="575.33" y="246" width="2.6" height="2" fill="#004bb4"/><rect x="578.9" y="240.6" width="1" height="6.9" fill="#eb0055" opacity="0.72"/><rect x="578.1" y="243.75" width="2.6" height="3.75" fill="#eb0055"/><rect x="581.68" y="244.4" width="1" height="7.6" fill="#eb0055" opacity="0.72"/><rect x="580.88" y="244.4" width="2.6" height="3.1" fill="#eb0055"/><rect x="584.45" y="230" width="1" height="22" fill="#eb0055" opacity="0.72"/><rect x="583.65" y="237.5" width="2.6" height="7.5" fill="#eb0055"/><rect x="586.98" y="227" width="1.5" height="10.5" fill="#eb0055" opacity="0.55"/><rect x="590" y="220" width="1" height="15" fill="#eb0055" opacity="0.72"/><rect x="589.2" y="227" width="2.6" height="8" fill="#eb0055"/><rect x="592.77" y="223.75" width="1" height="11.25" fill="#004bb4" opacity="0.72"/><rect x="591.98" y="227" width="2.6" height="8" fill="#004bb4"/><rect x="594.75" y="230" width="2.6" height="11" fill="#004bb4"/><rect x="598.33" y="241" width="1" height="11" fill="#004bb4" opacity="0.72"/><rect x="597.53" y="241" width="2.6" height="3.4" fill="#004bb4"/><rect x="600.3" y="237.5" width="2.6" height="6.9" fill="#eb0055"/><rect x="603.88" y="237.5" width="1" height="6.9" fill="#004bb4" opacity="0.72"/><rect x="603.08" y="241" width="2.6" height="3.4" fill="#004bb4"/><rect x="606.65" y="244.4" width="1" height="17.6" fill="#004bb4" opacity="0.72"/><rect x="605.85" y="244.4" width="2.6" height="3.1" fill="#004bb4"/><rect x="609.43" y="234.4" width="1" height="20.6" fill="#eb0055" opacity="0.72"/><rect x="608.63" y="234.4" width="2.6" height="13.1" fill="#eb0055"/><rect x="612.2" y="223.75" width="1" height="13.75" fill="#eb0055" opacity="0.72"/><rect x="611.4" y="230" width="2.6" height="7.5" fill="#eb0055"/><rect x="614.98" y="223.75" width="1" height="11.85" fill="#004bb4" opacity="0.72"/><rect x="614.18" y="233.75" width="2.6" height="1.85" fill="#004bb4"/><rect x="616.95" y="230" width="2.6" height="7.5" fill="#eb0055"/><rect x="620.52" y="220" width="1" height="14.4" fill="#eb0055" opacity="0.72"/><rect x="619.73" y="227" width="2.6" height="7.4" fill="#eb0055"/><rect x="623.3" y="230" width="1" height="22" fill="#004bb4" opacity="0.72"/><rect x="622.5" y="230" width="2.6" height="18" fill="#004bb4"/><rect x="626.08" y="240.6" width="1" height="14.4" fill="#eb0055" opacity="0.72"/><rect x="625.28" y="240.6" width="2.6" height="7.4" fill="#eb0055"/><rect x="628.05" y="234.4" width="2.6" height="9.35" fill="#eb0055"/><rect x="631.62" y="230" width="1" height="11" fill="#004bb4" opacity="0.72"/><rect x="630.83" y="237.5" width="2.6" height="3.5" fill="#004bb4"/><rect x="634.4" y="189.4" width="1" height="51.6" fill="#eb0055" opacity="0.72"/><rect x="633.6" y="196.25" width="2.6" height="41.75" fill="#eb0055"/><rect x="637.18" y="192.5" width="1" height="25" fill="#004bb4" opacity="0.72"/><rect x="636.38" y="200" width="2.6" height="3.75" fill="#004bb4"/><rect x="639.7" y="172" width="1.5" height="28" fill="#eb0055" opacity="0.55"/><rect x="642.73" y="197" width="1" height="16.75" fill="#eb0055" opacity="0.72"/><rect x="641.93" y="197" width="2.6" height="3" fill="#eb0055"/><rect x="645.5" y="155" width="1" height="58.75" fill="#eb0055" opacity="0.72"/><rect x="644.7" y="155" width="2.6" height="42" fill="#eb0055"/><rect x="647.48" y="128" width="2.6" height="27.6" fill="#eb0055"/><rect x="651.05" y="117" width="1" height="66" fill="#004bb4" opacity="0.72"/><rect x="650.25" y="137.5" width="2.6" height="18.1" fill="#004bb4"/><rect x="653.83" y="97" width="1" height="75.5" fill="#eb0055" opacity="0.72"/><rect x="653.03" y="107" width="2.6" height="48.6" fill="#eb0055"/><rect x="656.6" y="89.4" width="1" height="48.1" fill="#eb0055" opacity="0.72"/><rect x="655.8" y="97" width="2.6" height="10.5" fill="#eb0055"/><rect x="659.38" y="93" width="1" height="23" fill="#004bb4" opacity="0.72"/><rect x="658.58" y="100" width="2.6" height="14.4" fill="#004bb4"/><rect x="662.15" y="62.5" width="1" height="68.5" fill="#eb0055" opacity="0.72"/><rect x="661.35" y="73" width="2.6" height="44.5" fill="#eb0055"/><rect x="664.93" y="52" width="1" height="34" fill="#004bb4" opacity="0.72"/><rect x="664.13" y="73" width="2.6" height="4" fill="#004bb4"/><rect x="667.7" y="68.75" width="1" height="45.65" fill="#004bb4" opacity="0.72"/><rect x="666.9" y="76" width="2.6" height="27.75" fill="#004bb4"/><rect x="670.48" y="73" width="1" height="51.4" fill="#004bb4" opacity="0.72"/><rect x="669.68" y="100" width="2.6" height="21" fill="#004bb4"/><rect x="673.25" y="120.6" width="1" height="25" fill="#eb0055" opacity="0.72"/><rect x="672.45" y="120.6" width="2.6" height="3.8" fill="#eb0055"/><rect x="676.02" y="113.75" width="1" height="35" fill="#eb0055" opacity="0.72"/><rect x="675.23" y="113.75" width="2.6" height="10.65" fill="#eb0055"/><rect x="678.8" y="110.6" width="1" height="27.4" fill="#004bb4" opacity="0.72"/><rect x="678" y="110.6" width="2.6" height="3.8" fill="#004bb4"/><rect x="681.58" y="42" width="1" height="78.6" fill="#eb0055" opacity="0.72"/><rect x="680.78" y="42" width="2.6" height="72.4" fill="#eb0055"/><rect x="683.95" y="17.5" width="1.8" height="42.2" fill="#004bb4" opacity="0.5"/><rect x="683.55" y="42" width="2.6" height="10.5" fill="#004bb4"/><rect x="687.12" y="34.4" width="1" height="55.6" fill="#004bb4" opacity="0.72"/><rect x="686.33" y="52" width="2.6" height="26.75" fill="#004bb4"/><rect x="689.9" y="65.6" width="1" height="31.4" fill="#eb0055" opacity="0.72"/><rect x="689.1" y="65.6" width="2.6" height="13.8" fill="#eb0055"/><rect x="692.68" y="65.6" width="1" height="51.9" fill="#004bb4" opacity="0.72"/><rect x="691.88" y="68.75" width="2.6" height="35" fill="#004bb4"/></g>
<g><rect x="0.9" y="531.4" width="2.6" height="3.2" fill="#e60000"/><rect x="3.67" y="531.2" width="2.6" height="3.4" fill="#e60000"/><rect x="6.45" y="531.8" width="2.6" height="2.8" fill="#0046c8"/><rect x="9.22" y="532" width="2.6" height="2.6" fill="#0046c8"/><rect x="12" y="531.6" width="2.6" height="3" fill="#e60000"/><rect x="14.77" y="531.6" width="2.6" height="3" fill="#0046c8"/><rect x="17.55" y="531.4" width="2.6" height="3.2" fill="#e60000"/><rect x="20.32" y="532" width="2.6" height="2.6" fill="#0046c8"/><rect x="23.1" y="530.8" width="2.6" height="3.8" fill="#e60000"/><rect x="25.87" y="532" width="2.6" height="2.6" fill="#0046c8"/><rect x="28.65" y="531.6" width="2.6" height="3" fill="#e60000"/><rect x="31.43" y="531.8" width="2.6" height="2.8" fill="#0046c8"/><rect x="34.2" y="531.8" width="2.6" height="2.8" fill="#0046c8"/><rect x="36.98" y="531.6" width="2.6" height="3" fill="#e60000"/><rect x="39.75" y="530.8" width="2.6" height="3.8" fill="#e60000"/><rect x="42.53" y="531.6" width="2.6" height="3" fill="#0046c8"/><rect x="45.3" y="521.6" width="2.6" height="13" fill="#e60000"/><rect x="48.08" y="528" width="2.6" height="6.6" fill="#0046c8"/><rect x="50.85" y="531.8" width="2.6" height="2.8" fill="#0046c8"/><rect x="53.63" y="532" width="2.6" height="2.6" fill="#0046c8"/><rect x="56.4" y="531.6" width="2.6" height="3" fill="#e60000"/><rect x="59.18" y="530.8" width="2.6" height="3.8" fill="#e60000"/><rect x="61.95" y="532" width="2.6" height="2.6" fill="#0046c8"/><rect x="64.72" y="531.8" width="2.6" height="2.8" fill="#e60000"/><rect x="67.5" y="532" width="2.6" height="2.6" fill="#0046c8"/><rect x="70.28" y="530.8" width="2.6" height="3.8" fill="#e60000"/><rect x="73.05" y="532" width="2.6" height="2.6" fill="#0046c8"/><rect x="75.83" y="531.2" width="2.6" height="3.4" fill="#e60000"/><rect x="78.6" y="530.3" width="2.6" height="4.3" fill="#e60000"/><rect x="81.38" y="531.8" width="2.6" height="2.8" fill="#0046c8"/><rect x="84.15" y="527.5" width="2.6" height="7.1" fill="#e60000"/><rect x="86.92" y="531.2" width="2.6" height="3.4" fill="#0046c8"/><rect x="89.7" y="531.6" width="2.6" height="3" fill="#0046c8"/><rect x="92.48" y="530.3" width="2.6" height="4.3" fill="#e60000"/><rect x="95.25" y="531.2" width="2.6" height="3.4" fill="#0046c8"/><rect x="98.03" y="531.6" width="2.6" height="3" fill="#0046c8"/><rect x="100.8" y="530.8" width="2.6" height="3.8" fill="#e60000"/><rect x="103.58" y="531.4" width="2.6" height="3.2" fill="#0046c8"/><rect x="106.35" y="531.6" width="2.6" height="3" fill="#0046c8"/><rect x="109.12" y="528.9" width="2.6" height="5.7" fill="#e60000"/><rect x="111.9" y="531.6" width="2.6" height="3" fill="#0046c8"/><rect x="114.67" y="522" width="2.6" height="12.6" fill="#e60000"/><rect x="117.45" y="528.25" width="2.6" height="6.35" fill="#0046c8"/><rect x="120.23" y="528.25" width="2.6" height="6.35" fill="#0046c8"/><rect x="123" y="521.4" width="2.6" height="13.2" fill="#e60000"/><rect x="125.78" y="529.5" width="2.6" height="5.1" fill="#0046c8"/><rect x="128.55" y="528.9" width="2.6" height="5.7" fill="#e60000"/><rect x="131.32" y="528.9" width="2.6" height="5.7" fill="#e60000"/><rect x="134.1" y="529.2" width="2.6" height="5.4" fill="#e60000"/><rect x="136.87" y="532" width="2.6" height="2.6" fill="#0046c8"/><rect x="139.65" y="530.8" width="2.6" height="3.8" fill="#e60000"/><rect x="142.42" y="528.9" width="2.6" height="5.7" fill="#e60000"/><rect x="145.2" y="531" width="2.6" height="3.6" fill="#0046c8"/><rect x="147.97" y="531.8" width="2.6" height="2.8" fill="#0046c8"/><rect x="150.75" y="531.4" width="2.6" height="3.2" fill="#e60000"/><rect x="153.52" y="531" width="2.6" height="3.6" fill="#e60000"/><rect x="156.3" y="531" width="2.6" height="3.6" fill="#0046c8"/><rect x="159.07" y="531.4" width="2.6" height="3.2" fill="#0046c8"/><rect x="161.85" y="530.3" width="2.6" height="4.3" fill="#e60000"/><rect x="164.62" y="530.8" width="2.6" height="3.8" fill="#0046c8"/><rect x="167.4" y="528.9" width="2.6" height="5.7" fill="#e60000"/><rect x="170.17" y="531.2" width="2.6" height="3.4" fill="#0046c8"/><rect x="172.95" y="526.4" width="2.6" height="8.2" fill="#e60000"/><rect x="175.72" y="520.75" width="2.6" height="13.85" fill="#e60000"/><rect x="178.5" y="520.1" width="2.6" height="14.5" fill="#e60000"/><rect x="181.27" y="528.25" width="2.6" height="6.35" fill="#0046c8"/><rect x="184.05" y="530.8" width="2.6" height="3.8" fill="#0046c8"/><rect x="186.82" y="531.6" width="2.6" height="3" fill="#0046c8"/><rect x="189.6" y="487" width="2.6" height="47.6" fill="#e60000"/><rect x="192.37" y="504.5" width="2.6" height="30.1" fill="#0046c8"/><rect x="195.15" y="490" width="2.6" height="44.6" fill="#e60000"/><rect x="197.92" y="502.6" width="2.6" height="32" fill="#0046c8"/><rect x="200.7" y="518.9" width="2.6" height="15.7" fill="#0046c8"/><rect x="203.47" y="522" width="2.6" height="12.6" fill="#0046c8"/><rect x="206.25" y="525" width="2.6" height="9.6" fill="#0046c8"/><rect x="209.02" y="528.25" width="2.6" height="6.35" fill="#0046c8"/><rect x="211.8" y="528.25" width="2.6" height="6.35" fill="#0046c8"/><rect x="214.57" y="522" width="2.6" height="12.6" fill="#e60000"/><rect x="217.35" y="499.5" width="2.6" height="35.1" fill="#e60000"/><rect x="220.12" y="525" width="2.6" height="9.6" fill="#0046c8"/><rect x="222.9" y="528.25" width="2.6" height="6.35" fill="#0046c8"/><rect x="225.67" y="523.9" width="2.6" height="10.7" fill="#e60000"/><rect x="228.45" y="529.5" width="2.6" height="5.1" fill="#0046c8"/><rect x="231.22" y="530" width="2.6" height="4.6" fill="#0046c8"/><rect x="234" y="522" width="2.6" height="12.6" fill="#e60000"/><rect x="236.77" y="529.5" width="2.6" height="5.1" fill="#0046c8"/><rect x="239.55" y="525" width="2.6" height="9.6" fill="#e60000"/><rect x="242.32" y="527.6" width="2.6" height="7" fill="#0046c8"/><rect x="245.1" y="520.75" width="2.6" height="13.85" fill="#e60000"/><rect x="247.87" y="491.4" width="2.6" height="43.2" fill="#e60000"/><rect x="250.65" y="512" width="2.6" height="22.6" fill="#0046c8"/><rect x="253.42" y="520" width="2.6" height="14.6" fill="#0046c8"/><rect x="256.2" y="524.5" width="2.6" height="10.1" fill="#0046c8"/><rect x="258.97" y="525.75" width="2.6" height="8.85" fill="#0046c8"/><rect x="261.75" y="515.75" width="2.6" height="18.85" fill="#e60000"/><rect x="264.52" y="522" width="2.6" height="12.6" fill="#0046c8"/><rect x="267.3" y="522" width="2.6" height="12.6" fill="#0046c8"/><rect x="270.07" y="526.4" width="2.6" height="8.2" fill="#0046c8"/><rect x="272.85" y="530" width="2.6" height="4.6" fill="#0046c8"/><rect x="275.62" y="531.4" width="2.6" height="3.2" fill="#0046c8"/><rect x="278.4" y="524.5" width="2.6" height="10.1" fill="#e60000"/><rect x="281.17" y="530.75" width="2.6" height="3.85" fill="#0046c8"/><rect x="283.95" y="530" width="2.6" height="4.6" fill="#e60000"/><rect x="286.72" y="530.3" width="2.6" height="4.3" fill="#0046c8"/><rect x="289.5" y="531" width="2.6" height="3.6" fill="#0046c8"/><rect x="292.27" y="518.9" width="2.6" height="15.7" fill="#e60000"/><rect x="295.05" y="525.75" width="2.6" height="8.85" fill="#0046c8"/><rect x="297.82" y="531.4" width="2.6" height="3.2" fill="#0046c8"/><rect x="300.6" y="531" width="2.6" height="3.6" fill="#e60000"/><rect x="303.37" y="530.3" width="2.6" height="4.3" fill="#e60000"/><rect x="306.15" y="531.6" width="2.6" height="3" fill="#0046c8"/><rect x="308.92" y="531.6" width="2.6" height="3" fill="#0046c8"/><rect x="311.7" y="531.8" width="2.6" height="2.8" fill="#0046c8"/><rect x="314.47" y="531.2" width="2.6" height="3.4" fill="#e60000"/><rect x="317.25" y="531.4" width="2.6" height="3.2" fill="#0046c8"/><rect x="320.02" y="531.2" width="2.6" height="3.4" fill="#e60000"/><rect x="322.8" y="531" width="2.6" height="3.6" fill="#e60000"/><rect x="325.57" y="531.8" width="2.6" height="2.8" fill="#0046c8"/><rect x="328.35" y="532" width="2.6" height="2.6" fill="#0046c8"/><rect x="331.12" y="531.6" width="2.6" height="3" fill="#e60000"/><rect x="333.9" y="531.4" width="2.6" height="3.2" fill="#e60000"/><rect x="336.67" y="531.4" width="2.6" height="3.2" fill="#0046c8"/><rect x="339.45" y="524.5" width="2.6" height="10.1" fill="#e60000"/><rect x="342.22" y="531.4" width="2.6" height="3.2" fill="#0046c8"/><rect x="345" y="531" width="2.6" height="3.6" fill="#e60000"/><rect x="347.77" y="531" width="2.6" height="3.6" fill="#0046c8"/><rect x="350.55" y="526.4" width="2.6" height="8.2" fill="#e60000"/><rect x="353.32" y="531.6" width="2.6" height="3" fill="#0046c8"/><rect x="356.1" y="523.9" width="2.6" height="10.7" fill="#e60000"/><rect x="358.87" y="531.6" width="2.6" height="3" fill="#0046c8"/><rect x="361.65" y="530.3" width="2.6" height="4.3" fill="#e60000"/><rect x="364.42" y="531" width="2.6" height="3.6" fill="#0046c8"/><rect x="367.2" y="531.6" width="2.6" height="3" fill="#0046c8"/><rect x="369.97" y="532" width="2.6" height="2.6" fill="#0046c8"/><rect x="372.75" y="530.3" width="2.6" height="4.3" fill="#e60000"/><rect x="375.52" y="531" width="2.6" height="3.6" fill="#0046c8"/><rect x="378.3" y="530.3" width="2.6" height="4.3" fill="#e60000"/><rect x="381.07" y="531.8" width="2.6" height="2.8" fill="#0046c8"/><rect x="383.85" y="525" width="2.6" height="9.6" fill="#e60000"/><rect x="386.62" y="499.5" width="2.6" height="35.1" fill="#e60000"/><rect x="389.4" y="457.9" width="2.6" height="76.7" fill="#e60000"/><rect x="392.17" y="490" width="2.6" height="44.6" fill="#0046c8"/><rect x="394.95" y="517" width="2.6" height="17.6" fill="#0046c8"/><rect x="397.72" y="505.75" width="2.6" height="28.85" fill="#e60000"/><rect x="400.5" y="520.75" width="2.6" height="13.85" fill="#0046c8"/><rect x="403.27" y="525.75" width="2.6" height="8.85" fill="#0046c8"/><rect x="406.05" y="530" width="2.6" height="4.6" fill="#0046c8"/><rect x="408.82" y="530" width="2.6" height="4.6" fill="#0046c8"/><rect x="411.6" y="522" width="2.6" height="12.6" fill="#e60000"/><rect x="414.37" y="527" width="2.6" height="7.6" fill="#0046c8"/><rect x="417.15" y="529" width="2.6" height="5.6" fill="#0046c8"/><rect x="419.92" y="526.4" width="2.6" height="8.2" fill="#e60000"/><rect x="422.7" y="526.4" width="2.6" height="8.2" fill="#e60000"/><rect x="425.47" y="527" width="2.6" height="7.6" fill="#0046c8"/><rect x="428.25" y="530" width="2.6" height="4.6" fill="#0046c8"/><rect x="431.02" y="530" width="2.6" height="4.6" fill="#e60000"/><rect x="433.8" y="527.6" width="2.6" height="7" fill="#e60000"/><rect x="436.57" y="529.5" width="2.6" height="5.1" fill="#0046c8"/><rect x="439.35" y="530" width="2.6" height="4.6" fill="#e60000"/><rect x="442.12" y="531.4" width="2.6" height="3.2" fill="#0046c8"/><rect x="444.9" y="532" width="2.6" height="2.6" fill="#0046c8"/><rect x="447.67" y="530" width="2.6" height="4.6" fill="#e60000"/><rect x="450.45" y="527" width="2.6" height="7.6" fill="#e60000"/><rect x="453.22" y="526.4" width="2.6" height="8.2" fill="#e60000"/><rect x="456" y="529" width="2.6" height="5.6" fill="#0046c8"/><rect x="458.77" y="515.75" width="2.6" height="18.85" fill="#e60000"/><rect x="461.55" y="521.4" width="2.6" height="13.2" fill="#0046c8"/><rect x="464.32" y="524" width="2.6" height="10.6" fill="#0046c8"/><rect x="467.1" y="522.6" width="2.6" height="12" fill="#e60000"/><rect x="469.87" y="529" width="2.6" height="5.6" fill="#0046c8"/><rect x="472.65" y="497" width="2.6" height="37.6" fill="#e60000"/><rect x="475.42" y="477.5" width="2.6" height="57.1" fill="#e60000"/><rect x="478.2" y="505.75" width="2.6" height="28.85" fill="#0046c8"/><rect x="480.97" y="515" width="2.6" height="19.6" fill="#0046c8"/><rect x="483.75" y="520" width="2.6" height="14.6" fill="#0046c8"/><rect x="486.52" y="520" width="2.6" height="14.6" fill="#0046c8"/><rect x="489.3" y="525" width="2.6" height="9.6" fill="#0046c8"/><rect x="492.07" y="525.75" width="2.6" height="8.85" fill="#0046c8"/><rect x="494.85" y="529" width="2.6" height="5.6" fill="#0046c8"/><rect x="497.62" y="519.5" width="2.6" height="15.1" fill="#e60000"/><rect x="500.4" y="517.6" width="2.6" height="17" fill="#e60000"/><rect x="503.17" y="522" width="2.6" height="12.6" fill="#0046c8"/><rect x="505.95" y="528.25" width="2.6" height="6.35" fill="#0046c8"/><rect x="508.72" y="528.25" width="2.6" height="6.35" fill="#0046c8"/><rect x="511.5" y="525" width="2.6" height="9.6" fill="#e60000"/><rect x="514.28" y="527.6" width="2.6" height="7" fill="#0046c8"/><rect x="517.05" y="523.9" width="2.6" height="10.7" fill="#e60000"/><rect x="519.83" y="527" width="2.6" height="7.6" fill="#0046c8"/><rect x="522.6" y="530" width="2.6" height="4.6" fill="#0046c8"/><rect x="525.38" y="531.4" width="2.6" height="3.2" fill="#0046c8"/><rect x="528.15" y="525" width="2.6" height="9.6" fill="#e60000"/><rect x="530.93" y="530.75" width="2.6" height="3.85" fill="#0046c8"/><rect x="533.7" y="529.5" width="2.6" height="5.1" fill="#e60000"/><rect x="536.48" y="531" width="2.6" height="3.6" fill="#0046c8"/><rect x="539.25" y="531.4" width="2.6" height="3.2" fill="#0046c8"/><rect x="542.03" y="531.2" width="2.6" height="3.4" fill="#e60000"/><rect x="544.8" y="531.6" width="2.6" height="3" fill="#0046c8"/><rect x="547.58" y="531" width="2.6" height="3.6" fill="#e60000"/><rect x="550.35" y="532" width="2.6" height="2.6" fill="#0046c8"/><rect x="553.13" y="527.6" width="2.6" height="7" fill="#e60000"/><rect x="555.9" y="530" width="2.6" height="4.6" fill="#0046c8"/><rect x="558.68" y="530.8" width="2.6" height="3.8" fill="#0046c8"/><rect x="561.45" y="530.3" width="2.6" height="4.3" fill="#e60000"/><rect x="564.23" y="531.2" width="2.6" height="3.4" fill="#0046c8"/><rect x="567" y="530.8" width="2.6" height="3.8" fill="#e60000"/><rect x="569.78" y="531.8" width="2.6" height="2.8" fill="#0046c8"/><rect x="572.55" y="531.8" width="2.6" height="2.8" fill="#0046c8"/><rect x="575.33" y="531" width="2.6" height="3.6" fill="#e60000"/><rect x="578.1" y="531.6" width="2.6" height="3" fill="#0046c8"/><rect x="580.88" y="531.2" width="2.6" height="3.4" fill="#e60000"/><rect x="583.65" y="531" width="2.6" height="3.6" fill="#e60000"/><rect x="586.43" y="531.8" width="2.6" height="2.8" fill="#0046c8"/><rect x="589.2" y="528.25" width="2.6" height="6.35" fill="#e60000"/><rect x="591.98" y="530.3" width="2.6" height="4.3" fill="#0046c8"/><rect x="594.75" y="531.2" width="2.6" height="3.4" fill="#0046c8"/><rect x="597.53" y="531.8" width="2.6" height="2.8" fill="#0046c8"/><rect x="600.3" y="530.3" width="2.6" height="4.3" fill="#e60000"/><rect x="603.08" y="531.8" width="2.6" height="2.8" fill="#0046c8"/><rect x="605.85" y="528.25" width="2.6" height="6.35" fill="#e60000"/><rect x="608.63" y="531.4" width="2.6" height="3.2" fill="#0046c8"/><rect x="611.4" y="529" width="2.6" height="5.6" fill="#e60000"/><rect x="614.18" y="531.8" width="2.6" height="2.8" fill="#0046c8"/><rect x="616.95" y="530.8" width="2.6" height="3.8" fill="#e60000"/><rect x="619.73" y="531.2" width="2.6" height="3.4" fill="#0046c8"/><rect x="622.5" y="531.6" width="2.6" height="3" fill="#0046c8"/><rect x="625.28" y="531.2" width="2.6" height="3.4" fill="#e60000"/><rect x="628.05" y="531.2" width="2.6" height="3.4" fill="#0046c8"/><rect x="630.83" y="530.8" width="2.6" height="3.8" fill="#e60000"/><rect x="633.6" y="516.9" width="2.6" height="17.7" fill="#e60000"/><rect x="636.38" y="513.75" width="2.6" height="20.85" fill="#e60000"/><rect x="639.15" y="501.9" width="2.6" height="32.7" fill="#e60000"/><rect x="641.93" y="516.9" width="2.6" height="17.7" fill="#0046c8"/><rect x="644.7" y="510" width="2.6" height="24.6" fill="#e60000"/><rect x="647.48" y="496.9" width="2.6" height="37.7" fill="#e60000"/><rect x="650.25" y="478" width="2.6" height="56.6" fill="#e60000"/><rect x="653.03" y="490.6" width="2.6" height="44" fill="#0046c8"/><rect x="655.8" y="488" width="2.6" height="46.6" fill="#e60000"/><rect x="658.58" y="506.9" width="2.6" height="27.7" fill="#0046c8"/><rect x="661.35" y="483" width="2.6" height="51.6" fill="#e60000"/><rect x="664.13" y="488" width="2.6" height="46.6" fill="#0046c8"/><rect x="666.9" y="496.25" width="2.6" height="38.35" fill="#0046c8"/><rect x="669.68" y="499.4" width="2.6" height="35.2" fill="#0046c8"/><rect x="672.45" y="501.25" width="2.6" height="33.35" fill="#0046c8"/><rect x="675.23" y="514.4" width="2.6" height="20.2" fill="#0046c8"/><rect x="678" y="532" width="2.6" height="2.6" fill="#0046c8"/><rect x="680.78" y="470.6" width="2.6" height="64" fill="#e60000"/><rect x="683.55" y="460" width="2.6" height="74.6" fill="#e60000"/><rect x="686.33" y="480" width="2.6" height="54.6" fill="#0046c8"/><rect x="689.1" y="511.25" width="2.6" height="23.35" fill="#0046c8"/><rect x="691.88" y="503" width="2.6" height="31.6" fill="#e60000"/></g>
<polyline fill="none" stroke="#e424c8" stroke-width="1" stroke-linejoin="round" points="2,532.5 40,532.6 46,530.5 52,530.2 60,531 75,532.3 100,533 108,532.6 115,530 121,527.5 126.9,525.1 133,527.5 141.25,530 150,531 170,530.75 175,529 180,526.5 185,525.1 187.5,525.75 190,519.5 193.75,512 197.5,504.5 201.25,501.4 203.75,505.75 208.1,513.25 211.25,522 215,525.1 218.1,521.4 222.5,520.75 227.5,520.75 231.25,525.75 235,527.6 242.5,527.6 245,525.75 248.75,519.5 252.5,515.1 256.25,513.25 260,515.1 262.5,522 266.25,522 271.25,522 275,525.1 278.75,527 282.5,530.1 290,530.3 294,528.5 300,529 306,530.5 330,530.6 340,529.6 346,530.4 352,529.5 358,528.8 364,530 375,530.75 382.5,530.1 386.25,527 390,513.25 393.75,500.75 397.5,494.5 400,494.5 401.9,500.75 403.75,510.75 407.5,519.5 412.5,524.5 418.75,526.4 425,526.4 431.25,528.25 440,529.5 447.5,530.1 452.5,528.25 457.5,528.9 462.5,524.5 470,522.6 471.25,522 474.4,517 477.5,509.5 481.25,504.5 485,502.6 487.5,507 490,517 493.75,522.6 497.5,524.5 502.5,523.9 508.75,524.5 515,525.75 521.25,527.6 527.5,528.9 533.75,529.5 540,531.4 546.25,532 552.5,530.1 556.25,528.9 565,530.1 580,531.2 590,530.5 600,531.3 610,530.6 620,531.3 632.5,531.4 637.5,524.5 641.25,518.25 647.5,508.25 652.5,499.5 657.5,493.25 662.5,490 667.5,491.9 671.25,494.4 673.1,493.75 676.25,500 679.4,507.5 682.5,501.25 685.6,492.5 688.75,489.4 691.25,488.75 692.9,485.6"/>
<polyline fill="none" stroke="#f2a81e" stroke-width="1.2" stroke-linejoin="round" points="2,531.5 30,531.2 60,531.3 100,532 115,531.8 125,531 140,531.3 185,530.4 190,528.25 195,524.5 200,522 207.5,520.75 215,519.5 220,518.25 232.5,518.25 237.5,518.9 242.5,518.25 247.5,520.1 255,522 265,521.4 272.5,521.4 277.5,523.25 300,523.25 305,525.75 310,527 322.5,528.9 335,530.1 382.5,530.1 387.5,527 393.75,522.6 400,520.1 417.5,520.1 420,519.1 440,519.1 443.75,521.4 446.25,524.5 452.5,525.75 457.5,527.6 465,527 471.25,525.75 477.5,523.25 483.75,521.4 490,520.75 496.25,519.5 502.5,518.5 512.5,518.5 520,519.5 527.5,520.1 530,522 535,525.1 542.5,527 552.5,527.6 558.75,528.9 565,530.1 600,530.4 635,531.4 641.25,528.25 647.5,525.75 653.75,520.75 660,517 667.5,510.6 673.75,507.5 678.1,506.9 682.5,502.5 687.5,497.5 690,496.5 692.9,496.5"/>
<polyline fill="none" stroke="#9a9a9a" stroke-width="1.2" stroke-linejoin="round" points="2,529 20,529 22,530.6 60,531 115,532 185,532 191.25,531.4 197.5,530.1 216.25,530.1 222.5,528.9 247.5,528.25 266.25,527.25 285,527 375,527.6 400,525.75 405,525.1 465,525.1 477.5,523.9 490,523.25 527.5,524.5 565,525.3"/>
<polyline fill="none" stroke="#2a9a50" stroke-width="1.2" stroke-linejoin="round" points="2,531.9 60,531.6 115,531.9 185,530.3 191.25,529.5 197.5,528.25 210,527.6 222.5,526.4 235,525.75 247.5,525.1 260,524.5 272.5,523.9 285,523.25 303.75,523.9 307.5,522.6 313.75,523.25 328.75,523 335,524.25 357.5,524.25 362.5,526.4 385,527 387.5,526.4 395,524.75 405,524.75 410,525.5 465,525.5 477.5,523.9 483.75,523 497.5,522.6 554.4,522.25 557.5,524.5 565,525.75 627.5,527 647.5,526.4 660,524.5 675,522.5 693,519.5"/>
<polyline fill="none" stroke="#9a9a9a" stroke-width="1.2" stroke-linejoin="round" points="565,525.3 631,526 660,525.1 693,522.5"/>
<rect x="0" y="445.79999999999995" width="800" height="1.2" fill="#9c9c9c"/>
<rect x="729.5" y="0" width="70.5" height="551" fill="#d7e2f0"/>
<rect x="728.8" y="0" width="1.4" height="551" fill="#9a9a9a"/>
<rect x="729.5" y="445.79999999999995" width="70.5" height="1.2" fill="#9c9c9c"/>
<rect x="0" y="535.5" width="800" height="15.5" fill="#d7e2f0"/>
<rect x="0" y="535.0" width="800" height="1.1" fill="#9a9a9a"/>
<rect x="728.8" y="535.5" width="1.4" height="15.5" fill="#9a9a9a"/>
<rect x="0" y="0" width="800" height="1.1" fill="#ababab"/>
<rect x="0" y="549.8" width="800" height="1.2" fill="#a0a0a0"/>
<rect x="0" y="0" width="1.15" height="551" fill="#a8a8a8"/>
<rect x="729.8" y="31.73" width="1.7" height="1" fill="#9c9c9c"/>
<rect x="729.8" y="38.28" width="1.7" height="1" fill="#9c9c9c"/>
<rect x="729.8" y="44.83" width="1.7" height="1" fill="#9c9c9c"/>
<rect x="729.8" y="51.37" width="4.7" height="1" fill="#7c7c7c"/>
<rect x="729.8" y="59.56" width="1.7" height="1" fill="#9c9c9c"/>
<rect x="729.8" y="66.12" width="1.7" height="1" fill="#9c9c9c"/>
<rect x="729.8" y="72.67" width="1.7" height="1" fill="#9c9c9c"/>
<rect x="729.8" y="79.22" width="1.7" height="1" fill="#9c9c9c"/>
<rect x="729.8" y="85.75" width="4.7" height="1" fill="#7c7c7c"/>
<rect x="729.8" y="93.95" width="1.7" height="1" fill="#9c9c9c"/>
<rect x="729.8" y="100.5" width="1.7" height="1" fill="#9c9c9c"/>
<rect x="729.8" y="107.05" width="1.7" height="1" fill="#9c9c9c"/>
<rect x="729.8" y="113.6" width="1.7" height="1" fill="#9c9c9c"/>
<rect x="729.8" y="120.13" width="4.7" height="1" fill="#7c7c7c"/>
<rect x="729.8" y="128.33" width="1.7" height="1" fill="#9c9c9c"/>
<rect x="729.8" y="134.88" width="1.7" height="1" fill="#9c9c9c"/>
<rect x="729.8" y="141.44" width="1.7" height="1" fill="#9c9c9c"/>
<rect x="729.8" y="147.98" width="1.7" height="1" fill="#9c9c9c"/>
<rect x="729.8" y="154.52" width="4.7" height="1" fill="#7c7c7c"/>
<rect x="729.8" y="162.72" width="1.7" height="1" fill="#9c9c9c"/>
<rect x="729.8" y="169.27" width="1.7" height="1" fill="#9c9c9c"/>
<rect x="729.8" y="175.82" width="1.7" height="1" fill="#9c9c9c"/>
<rect x="729.8" y="182.37" width="1.7" height="1" fill="#9c9c9c"/>
<rect x="729.8" y="188.91" width="4.7" height="1" fill="#7c7c7c"/>
<rect x="729.8" y="197.1" width="1.7" height="1" fill="#9c9c9c"/>
<rect x="729.8" y="203.66" width="1.7" height="1" fill="#9c9c9c"/>
<rect x="729.8" y="210.21" width="1.7" height="1" fill="#9c9c9c"/>
<rect x="729.8" y="216.75" width="1.7" height="1" fill="#9c9c9c"/>
<rect x="729.8" y="223.29" width="4.7" height="1" fill="#7c7c7c"/>
<rect x="729.8" y="231.49" width="1.7" height="1" fill="#9c9c9c"/>
<rect x="729.8" y="238.04" width="1.7" height="1" fill="#9c9c9c"/>
<rect x="729.8" y="244.59" width="1.7" height="1" fill="#9c9c9c"/>
<rect x="729.8" y="251.14" width="1.7" height="1" fill="#9c9c9c"/>
<rect x="729.8" y="257.67" width="4.7" height="1" fill="#7c7c7c"/>
<rect x="729.8" y="265.87" width="1.7" height="1" fill="#9c9c9c"/>
<rect x="729.8" y="272.42" width="1.7" height="1" fill="#9c9c9c"/>
<rect x="729.8" y="278.97" width="1.7" height="1" fill="#9c9c9c"/>
<rect x="729.8" y="285.52" width="1.7" height="1" fill="#9c9c9c"/>
<rect x="729.8" y="292.06" width="4.7" height="1" fill="#7c7c7c"/>
<rect x="729.8" y="300.26" width="1.7" height="1" fill="#9c9c9c"/>
<rect x="729.8" y="306.81" width="1.7" height="1" fill="#9c9c9c"/>
<rect x="729.8" y="313.36" width="1.7" height="1" fill="#9c9c9c"/>
<rect x="729.8" y="319.91" width="1.7" height="1" fill="#9c9c9c"/>
<rect x="729.8" y="326.44" width="4.7" height="1" fill="#7c7c7c"/>
<rect x="729.8" y="334.64" width="1.7" height="1" fill="#9c9c9c"/>
<rect x="729.8" y="341.19" width="1.7" height="1" fill="#9c9c9c"/>
<rect x="729.8" y="347.75" width="1.7" height="1" fill="#9c9c9c"/>
<rect x="729.8" y="354.3" width="1.7" height="1" fill="#9c9c9c"/>
<rect x="729.8" y="360.83" width="4.7" height="1" fill="#7c7c7c"/>
<rect x="729.8" y="369.03" width="1.7" height="1" fill="#9c9c9c"/>
<rect x="729.8" y="375.58" width="1.7" height="1" fill="#9c9c9c"/>
<rect x="729.8" y="382.13" width="1.7" height="1" fill="#9c9c9c"/>
<rect x="729.8" y="388.68" width="1.7" height="1" fill="#9c9c9c"/>
<rect x="729.8" y="395.21" width="4.7" height="1" fill="#7c7c7c"/>
<rect x="729.8" y="403.41" width="1.7" height="1" fill="#9c9c9c"/>
<rect x="729.8" y="409.96" width="1.7" height="1" fill="#9c9c9c"/>
<rect x="729.8" y="416.51" width="1.7" height="1" fill="#9c9c9c"/>
<rect x="729.8" y="423.06" width="1.7" height="1" fill="#9c9c9c"/>
<rect x="729.8" y="429.6" width="4.7" height="1" fill="#7c7c7c"/>
<rect x="729.8" y="437.8" width="1.7" height="1" fill="#9c9c9c"/>
<rect x="729.8" y="444.35" width="1.7" height="1" fill="#9c9c9c"/>
<text x="735.9" y="434.55" font-size="11.6" fill="#484848">2,000</text>
<text x="735.9" y="400.16" font-size="11.6" fill="#484848">2,050</text>
<text x="735.9" y="365.78" font-size="11.6" fill="#484848">2,100</text>
<text x="735.9" y="331.39" font-size="11.6" fill="#484848">2,150</text>
<text x="735.9" y="297.01" font-size="11.6" fill="#484848">2,200</text>
<text x="735.9" y="262.62" font-size="11.6" fill="#484848">2,250</text>
<text x="735.9" y="228.24" font-size="11.6" fill="#484848">2,300</text>
<text x="735.9" y="193.85" font-size="11.6" fill="#484848">2,350</text>
<text x="735.9" y="159.47" font-size="11.6" fill="#484848">2,400</text>
<text x="735.9" y="125.08" font-size="11.6" fill="#484848">2,450</text>
<text x="735.9" y="90.7" font-size="11.6" fill="#484848">2,500</text>
<text x="735.9" y="56.32" font-size="11.6" fill="#484848">2,550</text>
<rect x="735.2" y="110.2" width="42" height="10.3" fill="#d7e2f0"/>
<rect x="732.7" y="96.9" width="65.4" height="12.1" fill="#e71c0c"/>
<text x="735.6" y="107.5" font-size="11.6" fill="#fff">2,475</text>
<text x="736.5" y="119.7" font-size="11.6" fill="#e7362f">10.74%</text>
<text x="730.1" y="13" font-size="11.6" fill="#e8362f">LC:23.75</text>
<text x="730.1" y="25.6" font-size="11.6" fill="#3472d6">HC:-4.81</text>
<rect x="729.8" y="463.7" width="1.7" height="1" fill="#9c9c9c"/>
<rect x="729.8" y="473.6" width="4.7" height="1" fill="#7c7c7c"/>
<rect x="729.8" y="483.6" width="1.7" height="1" fill="#9c9c9c"/>
<rect x="729.8" y="493.5" width="4.7" height="1" fill="#7c7c7c"/>
<rect x="729.8" y="503.7" width="1.7" height="1" fill="#9c9c9c"/>
<rect x="729.8" y="513.8" width="4.7" height="1" fill="#7c7c7c"/>
<rect x="729.8" y="523.9" width="1.7" height="1" fill="#9c9c9c"/>
<rect x="729.8" y="533.9" width="4.7" height="1" fill="#7c7c7c"/>
<text x="735.9" y="478.7" font-size="11.6" fill="#484848">3,000K</text>
<text x="735.9" y="497.9" font-size="11.6" fill="#484848">2,000K</text>
<rect x="732.7" y="497.3" width="65.4" height="12.2" fill="#e71c0c"/>
<text x="736.9" y="508" font-size="11.6" fill="#fff">1,526K</text>
<rect x="735.6" y="510.6" width="46" height="10.2" fill="#d7e2f0"/>
<text x="736.9" y="520" font-size="11.6" fill="#e7362f">134.53%</text>
<rect x="791.8" y="449.6" width="6.4" height="5.6" fill="#3a3a3a"/>
<path d="M793.4 450.9 L796.6 453.9 M796.6 450.9 L793.4 453.9" stroke="#e8e8e8" stroke-width="0.9" fill="none"/>
<text x="736.9" y="547.5" font-size="11.6" fill="#484848">12:57:00</text>
<text x="2.75" y="546.8" font-size="11.6" fill="#2c2c2c">02/26</text>
<rect x="88.9" y="535.5" width="1.2" height="14.5" fill="#9a9a9a"/>
<text x="92.3" y="546.8" font-size="11.7" fill="#585858">15</text>
<rect x="114.4" y="535.5" width="1.2" height="14.5" fill="#9a9a9a"/>
<text x="116.9" y="546.8" font-size="11.6" fill="#2c2c2c">02/27</text>
<rect x="169.20000000000002" y="535.5" width="1.2" height="14.5" fill="#9a9a9a"/>
<text x="172.6" y="546.8" font-size="11.7" fill="#585858">10</text>
<rect x="225.0" y="535.5" width="1.2" height="14.5" fill="#9a9a9a"/>
<text x="228" y="546.8" font-size="11.7" fill="#585858">11</text>
<rect x="280.4" y="535.5" width="1.2" height="14.5" fill="#9a9a9a"/>
<text x="283.3" y="546.8" font-size="11.7" fill="#585858">12</text>
<rect x="336.4" y="535.5" width="1.2" height="14.5" fill="#9a9a9a"/>
<text x="339.2" y="546.8" font-size="11.7" fill="#585858">13</text>
<rect x="391.9" y="535.5" width="1.2" height="14.5" fill="#9a9a9a"/>
<text x="395" y="546.8" font-size="11.7" fill="#585858">14</text>
<rect x="447.79999999999995" y="535.5" width="1.2" height="14.5" fill="#9a9a9a"/>
<text x="450.8" y="546.8" font-size="11.7" fill="#585858">15</text>
<rect x="472.4" y="535.5" width="1.2" height="14.5" fill="#9a9a9a"/>
<text x="474.8" y="546.8" font-size="11.6" fill="#2c2c2c">02/28</text>
<rect x="527.8" y="535.5" width="1.2" height="14.5" fill="#9a9a9a"/>
<text x="530.8" y="546.8" font-size="11.7" fill="#585858">10</text>
<rect x="583.8" y="535.5" width="1.2" height="14.5" fill="#9a9a9a"/>
<text x="586.6" y="546.8" font-size="11.7" fill="#585858">11</text>
<rect x="639.0" y="535.5" width="1.2" height="14.5" fill="#9a9a9a"/>
<text x="642" y="546.8" font-size="11.7" fill="#585858">12</text>
<rect x="3.5" y="5.4" width="3.4" height="6.4" fill="#b6b6b6" stroke="#8a8a8a" stroke-width="0.7"/>
<rect x="55.1" y="5.4" width="3.4" height="6.4" fill="#b6b6b6" stroke="#8a8a8a" stroke-width="0.7"/>
<rect x="9.5" y="2.3" width="42.1" height="13.9" rx="1" fill="#ebebeb" stroke="#d2d2d2" stroke-width="0.8"/>
<text x="13.6" y="13.8" font-size="11.7" fill="#484848">엘컴텍</text>
<text x="65.5" y="13.5" font-size="11.7" fill="#e636d6">종가 단순 5</text>
<rect x="5.5" y="16.7" width="10.7" height="10.7" rx="1.6" fill="#a8a8a8" stroke="#3a3a3a" stroke-width="1.25"/>
<rect x="6.4" y="17.6" width="8.9" height="2.6" fill="#939393"/>
<path d="M8.3 20.9V26.4M10.75 20.9V26.4M13.6 20.9V26.4" stroke="#ececec" stroke-width="1" fill="none"/>
<path d="M7 19H8M9.3 18.6H10.2M12 18.8H13M13.6 18.2H14.4" stroke="#c8c8c8" stroke-width="0.8" fill="none"/>
<rect x="3.6" y="451.2" width="3.3" height="6.7" fill="#b6b6b6" stroke="#8a8a8a" stroke-width="0.7"/>
<text x="13.75" y="459.9" font-size="11.7" fill="#3a9c9c">거래량</text>
<text x="59.4" y="460.3" font-size="11.7" fill="#e636d6">단순 5</text>
<text x="102" y="460.3" font-size="11.7" fill="#f0a626">20</text>
<text x="122.9" y="460.3" font-size="11.7" fill="#2fa656">60</text>
<text x="146" y="460.3" font-size="11.7" fill="#7c7c7c">120</text>
<text x="5.5" y="473" font-size="11.7" fill="#444">1,526,162주(134.53%)</text>
<path d="M87.3 427.6 L92 423 V432.2 Z" fill="#2222ff"/><rect x="91.5" y="427" width="6.2" height="1.2" fill="#2222ff"/>
<text x="98.6" y="431.8" font-size="11.7" fill="#3434ff">최저 2,000 (14:54)</text>
<text x="566" y="25.6" font-size="11.7" fill="#f0145a">최고 2,600 (12:48)</text>
<path d="M684.9 21.7 L679.6 17.4 V26.0 Z" fill="#f0145a"/><rect x="672.1" y="21.1" width="8" height="1.25" fill="#f0145a"/>
<rect x="170.45" y="99.2" width="198.65" height="63.15" fill="#fff"/>
<path d="M170.45 162.35 V99.2 H369.1" fill="none" stroke="#c3c3c3" stroke-width="1.2"/>
<path d="M369.1 98.6 V162.35" fill="none" stroke="#8a8a8a" stroke-width="1.7"/>
<path d="M169.85 162.35 H369.95" fill="none" stroke="#606060" stroke-width="1.2"/>
<text x="177" y="124.5" font-size="25" font-weight="bold" font-style="italic" fill="#ff0000">찌라시 발송이후</text>
<text x="177" y="157" font-size="25" font-weight="bold" font-style="italic" fill="#ff0000">급등!!</text>
<line x1="115.25" y1="0.65" x2="115.25" y2="17" stroke="#3c3c3c" stroke-width="1.8" stroke-dasharray="2.3 2.607" stroke-dashoffset="0"/>
<line x1="115.25" y1="420" x2="115.25" y2="435" stroke="#3c3c3c" stroke-width="1.8" stroke-dasharray="2.3 2.607" stroke-dashoffset="2.26"/>
<line x1="115.25" y1="449" x2="115.25" y2="476" stroke="#3c3c3c" stroke-width="1.8" stroke-dasharray="2.3 2.607" stroke-dashoffset="1.81"/>
</svg>
</body></html>
